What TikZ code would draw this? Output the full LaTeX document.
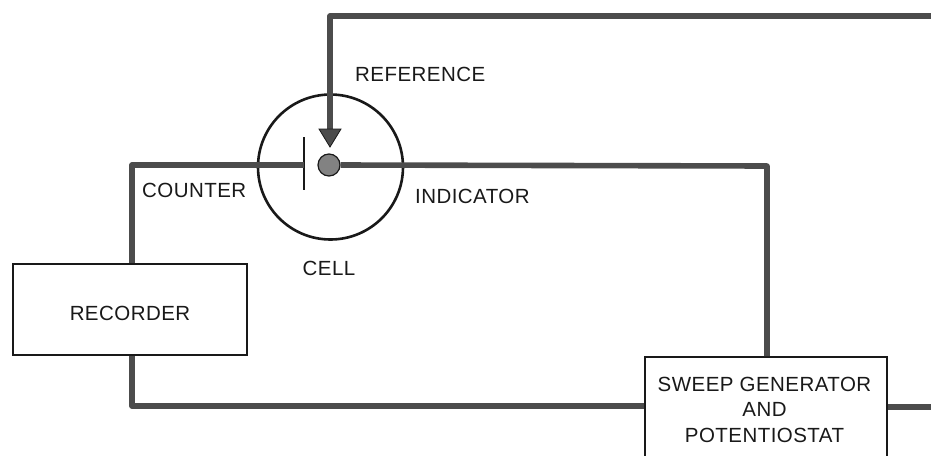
\documentclass[tikz,border=0pt]{standalone}
\usepackage{fontspec}
\setmainfont{Liberation Sans}[LetterSpace=2.2]
\definecolor{wirecol}{gray}{0.3}
\definecolor{inkcol}{gray}{0.1}
\tikzset{
  x=1pt,y=-1pt,
  wire/.style={draw=wirecol,line width=5.6pt,line join=round},
  thinbox/.style={draw=inkcol,line width=2pt,inner sep=0pt,anchor=north west},
  lbl/.style={inkcol,font=\fontsize{20.5}{25.5}\selectfont,inner sep=0pt,align=center},
}
\begin{document}
\begin{tikzpicture}
\useasboundingbox (0,0) rectangle (931,455);
\clip (0,0) rectangle (931,455);
\coordinate (topstart) at (330,16);
\coordinate (topend) at (931,16);
\coordinate (rightend) at (931,407);
\coordinate (tip) at (330,147);
\coordinate (cc) at (330.5,167);
% wires
\node[draw=inkcol,line width=2.6pt,circle,minimum size=145pt,inner sep=0pt] (cell) at (cc) {};
\draw[wire] (topend) -- (topstart) -- (330,132);
\fill[wirecol,draw=inkcol,line width=0.8pt] (319,129) -- (341,129) -- (tip) -- cycle;
\node[thinbox,minimum width=234pt,minimum height=91pt] (rec) at (12,263) {};
\node[thinbox,minimum width=242pt,minimum height=130pt] (swp) at (644,356) {};
\node[circle,fill=wirecol!70,draw=inkcol,line width=1.2pt,minimum size=22pt,inner sep=0pt] (ball) at (329,165) {};
\coordinate (plate) at (304,165);
\draw[inkcol,line width=2pt] (304,137) -- (304,190);
\draw[wire] (plate) -- (132,165) -- (rec.north -| 132,165);
\draw[wire] (ball.east) -- (767,166) -- (swp.north -| 767,166);
\draw[wire] (rec.south -| 132,165) -- (132,406) -- (swp.west |- 132,406);
\draw[wire] (swp.east |- rightend) -- (rightend);
\node[lbl,anchor=west] (t1) at (355,74) {REFERENCE};
\node[lbl,anchor=west] (t2) at (142,190) {COUNTER};
\node[lbl,anchor=west] (t3) at (415,196) {INDICATOR};
\node[lbl] (t4) at (329,268) {CELL};
\node[lbl] (t5) at (130,313) {RECORDER};
\node[lbl] (t6) at (764.5,409.5) {SWEEP GENERATOR\\AND\\POTENTIOSTAT};
\end{tikzpicture}
\end{document}
